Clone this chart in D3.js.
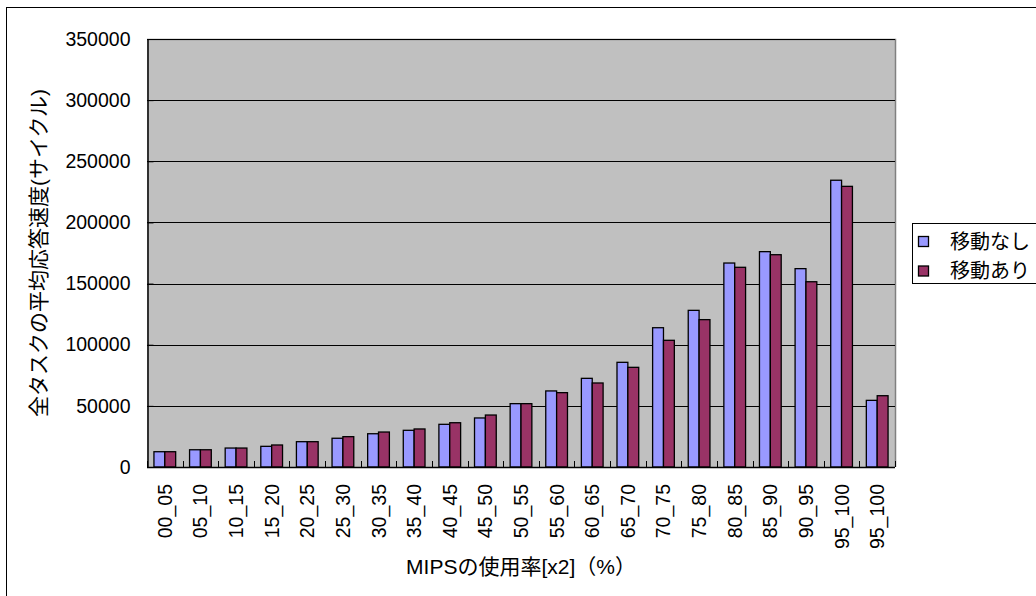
<!DOCTYPE html>
<html><head><meta charset="utf-8">
<script src="https://cdn.jsdelivr.net/npm/d3@7"></script>
<style>
html,body{margin:0;padding:0;background:#fff;}
svg{display:block;}
text{font-family:"Liberation Sans","Noto Sans CJK JP",sans-serif;fill:#000;}
</style></head><body>
<svg id="chart" width="1036" height="596"></svg>
<script>
const categories = ["00_05","05_10","10_15","15_20","20_25","25_30","30_35","35_40","40_45","45_50","50_55","55_60","60_65","65_70","70_75","75_80","80_85","85_90","90_95","95_100","95_100"];
const seriesNames = ["移動なし","移動あり"];
const noMove   = [12500,14100,15500,16900,20700,23500,27200,30000,34900,40100,51800,62200,72500,85600,113900,128100,166800,176100,162200,234500,54500];
const withMove = [12500,14100,15500,18000,20700,24800,28600,31100,36200,42500,51800,60800,68700,81500,103600,120500,163300,173600,151500,229500,58300];
const yTicks = [0,50000,100000,150000,200000,250000,300000,350000];
const colors = ["#9999FF","#993366"];
const yTitle = "全タスクの平均応答速度(サイクル)";
const xTitle = "MIPSの使用率[x2]（%）";

const svg = d3.select("#chart");
const L = 147, R = 895, T = 39, B = 467;

// outer chart border
svg.append("rect").attr("x",6.5).attr("y",7.5).attr("width",1040).attr("height",600)
  .attr("fill","#fff").attr("stroke","#000").attr("stroke-width",1);

const idx = categories.map((d,i)=>i);
const x = d3.scaleBand().domain(idx).range([L,R]).paddingInner(0.39).paddingOuter(0.195);
const xs = d3.scaleBand().domain([0,1]).range([0,x.bandwidth()]);
const y = d3.scaleLinear().domain([0,350000]).range([B,T]);

// plot area
svg.append("rect").attr("x",L).attr("y",T).attr("width",R-L).attr("height",B-T).attr("fill","#C0C0C0");
svg.append("path").attr("d",`M${L},${T+0.5}H${R+0.5}V${B}`).attr("fill","none").attr("stroke","#808080").attr("stroke-width",1.5);

// gridlines
svg.append("g").selectAll("line").data(yTicks.filter(v=>v>0)).join("line")
  .attr("x1",L).attr("x2",R).attr("y1",d=>Math.round(y(d))+0.5).attr("y2",d=>Math.round(y(d))+0.5)
  .attr("stroke","#000").attr("stroke-width",1);

// bars
const series = [noMove, withMove];
const g = svg.append("g");
series.forEach((vals,si)=>{
  g.selectAll(null).data(vals).join("rect")
    .attr("x",(d,i)=>x(i)+xs(si))
    .attr("y",d=>y(d))
    .attr("width",xs.bandwidth())
    .attr("height",d=>B-y(d))
    .attr("fill",colors[si])
    .attr("stroke","#000").attr("stroke-width",1.3);
});

// y axis
const yAxis = d3.axisLeft(y).tickValues(yTicks).tickSizeInner(-6).tickSizeOuter(0).tickPadding(17).tickFormat(d3.format("d"));
const ya = svg.append("g").attr("transform",`translate(${L+0.5},0)`).call(yAxis);
ya.select(".domain").attr("stroke","#000").attr("stroke-width",1.5);
ya.selectAll("text").style("font-size","19.5px").attr("fill","#000");

// x axis
const xa = svg.append("g").attr("transform",`translate(0,${B})`);
xa.append("line").attr("x1",L).attr("x2",R).attr("y1",0.5).attr("y2",0.5).attr("stroke","#000").attr("stroke-width",1.5);
const bounds = d3.range(categories.length+1).map(i=> i<categories.length ? x(i)-x.step()*x.paddingOuter() : R);
xa.selectAll(".tk").data(bounds).join("line").attr("class","tk")
  .attr("x1",d=>Math.round(d)+0.5).attr("x2",d=>Math.round(d)+0.5).attr("y1",0).attr("y2",-6).attr("stroke","#000").attr("stroke-width",1);
xa.selectAll(".lbl").data(idx).join("text").attr("class","lbl")
  .attr("transform",i=>`translate(${x(i)+x.bandwidth()/2+7},17) rotate(-90)`)
  .attr("text-anchor","end").style("font-size","19.5px").text(i=>categories[i]);

// titles
svg.append("text").attr("transform",`translate(${46},${(T+B)/2}) rotate(-90)`)
  .attr("text-anchor","middle").style("font-size","21px").text(yTitle);
svg.append("text").attr("x",(L+R)/2).attr("y",574).attr("text-anchor","middle").style("font-size","21px").text(xTitle);

// legend
const lg = svg.append("g");
lg.append("rect").attr("x",912.5).attr("y",223.5).attr("width",140).attr("height",60).attr("fill","#fff").attr("stroke","#000").attr("stroke-width",1);
seriesNames.forEach((n,i)=>{
  const cy = 241.5 + i*29.5;
  lg.append("rect").attr("x",918.5).attr("y",cy-5).attr("width",10).attr("height",10).attr("fill",colors[i]).attr("stroke","#000").attr("stroke-width",1.3);
  lg.append("text").attr("x",950).attr("y",cy+7).style("font-size","20px").text(n);
});
</script>
</body></html>
